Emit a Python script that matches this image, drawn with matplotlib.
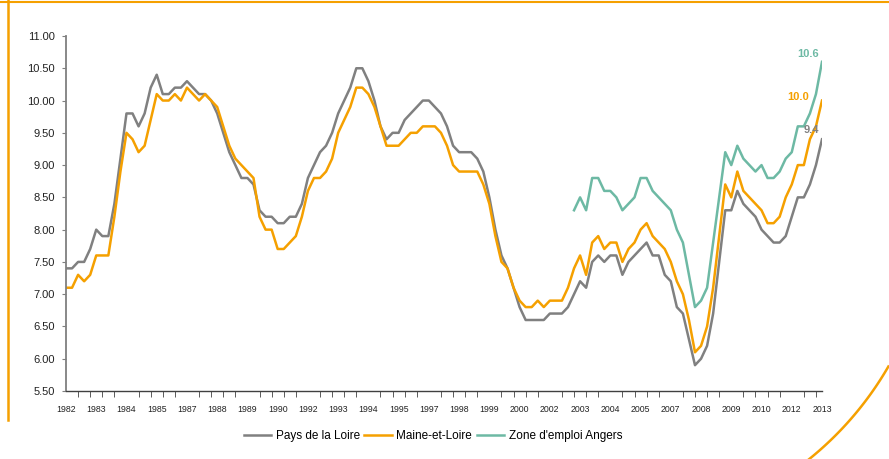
import numpy as np
import matplotlib.pyplot as plt
from matplotlib.lines import Line2D

plt.rcParams['font.family'] = ['Liberation Sans', 'DejaVu Sans']

# trimestres 1982T1 .. 2013T2
pays_loire = [
    7.4, 7.4, 7.5, 7.5, 7.7, 8.0, 7.9, 7.9, 8.4, 9.1,
    9.8, 9.8, 9.6, 9.8, 10.2, 10.4, 10.1, 10.1, 10.2, 10.2,
    10.3, 10.2, 10.1, 10.1, 10.0, 9.8, 9.5, 9.2, 9.0, 8.8,
    8.8, 8.7, 8.3, 8.2, 8.2, 8.1, 8.1, 8.2, 8.2, 8.4,
    8.8, 9.0, 9.2, 9.3, 9.5, 9.8, 10.0, 10.2, 10.5, 10.5,
    10.3, 10.0, 9.6, 9.4, 9.5, 9.5, 9.7, 9.8, 9.9, 10.0,
    10.0, 9.9, 9.8, 9.6, 9.3, 9.2, 9.2, 9.2, 9.1, 8.9,
    8.5, 8.0, 7.6, 7.4, 7.1, 6.8, 6.6, 6.6, 6.6, 6.6,
    6.7, 6.7, 6.7, 6.8, 7.0, 7.2, 7.1, 7.5, 7.6, 7.5,
    7.6, 7.6, 7.3, 7.5, 7.6, 7.7, 7.8, 7.6, 7.6, 7.3,
    7.2, 6.8, 6.7, 6.3, 5.9, 6.0, 6.2, 6.7, 7.5, 8.3,
    8.3, 8.6, 8.4, 8.3, 8.2, 8.0, 7.9, 7.8, 7.8, 7.9,
    8.2, 8.5, 8.5, 8.7, 9.0, 9.4,
]
maine_loire = [
    7.1, 7.1, 7.3, 7.2, 7.3, 7.6, 7.6, 7.6, 8.2, 8.9,
    9.5, 9.4, 9.2, 9.3, 9.7, 10.1, 10.0, 10.0, 10.1, 10.0,
    10.2, 10.1, 10.0, 10.1, 10.0, 9.9, 9.6, 9.3, 9.1, 9.0,
    8.9, 8.8, 8.2, 8.0, 8.0, 7.7, 7.7, 7.8, 7.9, 8.2,
    8.6, 8.8, 8.8, 8.9, 9.1, 9.5, 9.7, 9.9, 10.2, 10.2,
    10.1, 9.9, 9.6, 9.3, 9.3, 9.3, 9.4, 9.5, 9.5, 9.6,
    9.6, 9.6, 9.5, 9.3, 9.0, 8.9, 8.9, 8.9, 8.9, 8.7,
    8.4, 7.9, 7.5, 7.4, 7.1, 6.9, 6.8, 6.8, 6.9, 6.8,
    6.9, 6.9, 6.9, 7.1, 7.4, 7.6, 7.3, 7.8, 7.9, 7.7,
    7.8, 7.8, 7.5, 7.7, 7.8, 8.0, 8.1, 7.9, 7.8, 7.7,
    7.5, 7.2, 7.0, 6.6, 6.1, 6.2, 6.5, 7.1, 7.9, 8.7,
    8.5, 8.9, 8.6, 8.5, 8.4, 8.3, 8.1, 8.1, 8.2, 8.5,
    8.7, 9.0, 9.0, 9.4, 9.6, 10.0,
]
# zone d'emploi : disponible a partir de 2003T1
zone_angers = [np.nan] * 84 + [
    8.3, 8.5, 8.3, 8.8, 8.8, 8.6, 8.6, 8.5, 8.3, 8.4,
    8.5, 8.8, 8.8, 8.6, 8.5, 8.4, 8.3, 8.0, 7.8, 7.3,
    6.8, 6.9, 7.1, 7.8, 8.5, 9.2, 9.0, 9.3, 9.1, 9.0,
    8.9, 9.0, 8.8, 8.8, 8.9, 9.1, 9.2, 9.6, 9.6, 9.8,
    10.1, 10.6,
]
year_labels = ['1982', '1983', '1984', '1985', '1987', '1988', '1989', '1990',
               '1992', '1993', '1994', '1995', '1997', '1998', '1999', '2000',
               '2002', '2003', '2004', '2005', '2007', '2008', '2009', '2010',
               '2012', '2013']

GRAY = '#808080'
ORANGE = '#F5A000'
TEAL = '#6DB9A4'

fig = plt.figure(figsize=(8.89, 4.59), dpi=100)
ax = fig.add_axes([66 / 889, 1 - 391 / 459, 756 / 889, 355 / 459])

x = np.arange(len(pays_loire))
ax.plot(x, pays_loire, color=GRAY, lw=1.8, label='Pays de la Loire')
ax.plot(x, maine_loire, color=ORANGE, lw=1.8, label='Maine-et-Loire')
ax.plot(x, zone_angers, color=TEAL, lw=1.8, label="Zone d'emploi Angers")

ax.set_xlim(0, len(x) - 1)
ax.set_ylim(5.5, 11.0)
ax.set_yticks(np.arange(5.5, 11.01, 0.5))
ax.set_yticklabels([f'{v:.2f}' for v in np.arange(5.5, 11.01, 0.5)], fontsize=8)
ax.set_xticks(np.arange(0, len(x), 5))
ax.set_xticklabels(year_labels, fontsize=6.3)
ax.set_xticks(np.arange(0, len(x), 2), minor=True)
ax.tick_params(axis='x', which='major', length=0, pad=10, colors='#222222')
ax.tick_params(axis='x', which='minor', length=4, direction='out', color='#404040')
ax.tick_params(axis='y', length=3, pad=5, color='#7f7f7f', labelcolor='#222222')

for s in ['top', 'right']:
    ax.spines[s].set_visible(False)
ax.spines['left'].set_color('#7f7f7f')
ax.spines['left'].set_linewidth(1.3)
ax.spines['bottom'].set_color('#404040')
ax.spines['bottom'].set_linewidth(1.0)

# valeurs finales
last = len(x) - 1
ax.annotate(f'{zone_angers[-1]:.1f}', (last, zone_angers[-1]), xytext=(-2, 5.5),
            textcoords='offset points', ha='right', va='center',
            color=TEAL, fontsize=8, fontweight='bold')
ax.annotate(f'{maine_loire[-1]:.1f}', (last, maine_loire[-1]), xytext=(-9, 2.5),
            textcoords='offset points', ha='right', va='center',
            color=ORANGE, fontsize=8, fontweight='bold')
ax.annotate(f'{pays_loire[-1]:.1f}', (last, pays_loire[-1]), xytext=(-2, 6.5),
            textcoords='offset points', ha='right', va='center',
            color=GRAY, fontsize=8, fontweight='bold')

fig.legend(loc='center', bbox_to_anchor=(0.487, 0.05), ncol=3, frameon=False,
           fontsize=8.5, handlelength=2.3, handletextpad=0.4, columnspacing=0.4)

# cadre orange de la page
W, H = 889, 459
fig.add_artist(Line2D([0, 1], [1 - 2 / H, 1 - 2 / H], color=ORANGE, lw=1.5))
fig.add_artist(Line2D([8 / W, 8 / W], [1, 1 - 420 / H], color=ORANGE, lw=1.8))
t = np.linspace(np.radians(-30), np.radians(-52), 50)
cx, cy, r = 600, 200, 333
fig.add_artist(Line2D((cx + r * np.cos(t)) / W, 1 - (cy - r * np.sin(t)) / H,
                      color=ORANGE, lw=1.8))

fig.savefig('out.png', dpi=100)
